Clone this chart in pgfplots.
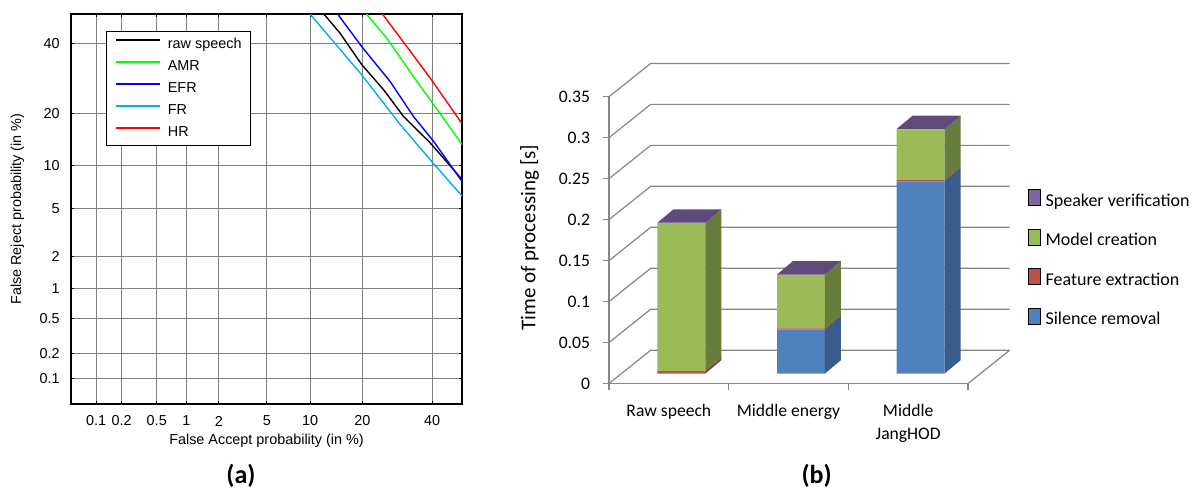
\documentclass[border=0pt]{standalone}
\usepackage{fontspec}
\setmainfont{Liberation Sans}
\newfontfamily\calibri{Carlito}
\usepackage{pgfplots}
\usepackage{pgfplotstable}
\pgfplotsset{compat=1.18}

\definecolor{gridgray}{RGB}{134,134,134}
\definecolor{silence}{RGB}{79,129,189}
\definecolor{silenceside}{RGB}{56,93,138}
\definecolor{feature}{RGB}{192,80,77}
\definecolor{featureside}{RGB}{140,56,54}
\definecolor{model}{RGB}{155,187,89}
\definecolor{modelside}{RGB}{102,125,59}
\definecolor{speaker}{RGB}{128,100,162}
\definecolor{speakertop}{RGB}{96,74,123}

% normal deviate of a percentage p <= 50 (Abramowitz-Stegun 26.2.23), for the DET axes
\newcommand\probit[1]{%
  \pgfmathparse{sqrt(-2*ln((#1)/100))}\let\probt\pgfmathresult
  \pgfmathparse{-(\probt-(2.515517+0.802853*\probt+0.010328*\probt*\probt)/(1+1.432788*\probt+0.189269*\probt*\probt+0.001308*\probt*\probt*\probt))}}

% processing times [s]: silence removal, feature extraction, model creation, speaker verification
\pgfplotstableread{
x   silence feature model  speaker
0.5 0       0.003   0.1805 0.0005
1.5 0.0535  0.0015  0.0655 0.0005
2.5 0.2345  0.0015  0.062  0.0005
}\bartimes

% 3-D look of the bars: side and top faces
\def\ddx{0.1337}\def\ddy{0.0163}\def\hw{0.2}
\newcommand\sideface[4]{%
  \pgfmathsetmacro\sfxa{#1+\hw}\pgfmathsetmacro\sfxb{#1+\hw+\ddx}%
  \pgfmathsetmacro\sfya{#2+\ddy}\pgfmathsetmacro\sfyb{#3+\ddy}%
  \addplot[fill=#4, draw=none, forget plot] coordinates {(\sfxa,#2) (\sfxb,\sfya) (\sfxb,\sfyb) (\sfxa,#3)} -- cycle;}
\newcommand\topface[2]{%
  \pgfmathsetmacro\sfxa{#1-\hw}\pgfmathsetmacro\sfxb{#1+\hw}%
  \pgfmathsetmacro\sfxc{#1+\hw+\ddx}\pgfmathsetmacro\sfxd{#1-\hw+\ddx}\pgfmathsetmacro\sfya{#2+\ddy}%
  \addplot[fill=speakertop, draw=none, forget plot] coordinates {(\sfxa,#2) (\sfxb,#2) (\sfxc,\sfya) (\sfxd,\sfya)} -- cycle;}
\newcommand\barboxrow[1]{%
  \pgfplotstablegetelem{#1}{x}\of\bartimes\let\bbx\pgfplotsretval
  \pgfplotstablegetelem{#1}{silence}\of\bartimes\let\bbs\pgfplotsretval
  \pgfplotstablegetelem{#1}{feature}\of\bartimes\let\bbf\pgfplotsretval
  \pgfplotstablegetelem{#1}{model}\of\bartimes\let\bbm\pgfplotsretval
  \pgfplotstablegetelem{#1}{speaker}\of\bartimes\let\bbv\pgfplotsretval
  \pgfmathsetmacro\cumA{\bbs}\pgfmathsetmacro\cumB{\cumA+\bbf}%
  \pgfmathsetmacro\cumC{\cumB+\bbm}\pgfmathsetmacro\cumD{\cumC+\bbv}%
  \sideface{\bbx}{0}{\cumA}{silenceside}%
  \sideface{\bbx}{\cumA}{\cumB}{featureside}%
  \sideface{\bbx}{\cumB}{\cumC}{modelside}%
  \sideface{\bbx}{\cumC}{\cumD}{speakertop}%
  \topface{\bbx}{\cumD}}

\begin{document}
\begin{tikzpicture}
\path[use as bounding box] (0,0) rectangle (596pt,-247pt);

% ---------- (a) DET curves ----------
\begin{axis}[
  at={(35.5pt,-7pt)}, anchor=north west,
  scale only axis, width=195.5pt, height=195pt,
  x coord trafo/.code={\probit{#1}},
  y coord trafo/.code={\probit{#1}},
  xmin=0.05, xmax=50, ymin=0.05, ymax=50,
  enlargelimits=false,
  xtick={0.1,0.2,0.5,1,2,5,10,20,40},
  xticklabels={0.1,0.2,0.5,1,2,5,10,20,40},
  ytick={0.1,0.2,0.5,1,2,5,10,20,40},
  yticklabels={0.1,0.2,0.5,1,2,5,10,20,40},
  xtick pos=both, ytick pos=both,
  xticklabel pos=lower, yticklabel pos=lower,
  tick align=inside, major tick length=1.5pt,
  tick style={black, line width=0.5pt},
  axis line style={black, line width=0.6pt},
  grid=major, grid style={black!50, line width=0.5pt},
  tick label style={font=\fontsize{7.2}{8.6}\selectfont},
  xticklabel style={anchor=center, yshift=-8.5pt},
  yticklabel style={anchor=east, inner sep=0pt, xshift=-5.5pt},
  label style={font=\fontsize{7.2}{8.6}\selectfont},
  xlabel={False Accept probability (in \%)},
  ylabel={False Reject probability (in \%)},
  xlabel style={at={(axis description cs:0.5,-0.095)}, anchor=center},
  ylabel style={at={(axis description cs:-0.137,0.5)}, anchor=center},
  legend style={at={(rel axis cs:0.0895,0.956)}, anchor=north west,
    draw=black, line width=0.6pt, fill=white,
    font=\fontsize{7.2}{8.6}\selectfont,
    inner xsep=4.5pt, inner ysep=3pt, row sep=4.3pt, column sep=3.35pt,
    nodes={inner sep=0pt, text height=5.2pt, text depth=1.5pt}},
  legend cell align=left,
  legend image code/.code={\draw[#1, line width=0.8pt] (0pt,2.2pt) -- (22pt,2.2pt);},
]
\addplot[draw=black, line width=0.7pt] coordinates {
  (12.2,50) (15.2,43.5) (19.9,33.4) (25.4,26.1) (31.1,19.3) (39.4,13.8) (50,8.1)};
\addplot[draw=green, line width=0.7pt] coordinates {
  (21.0,50) (26.3,41.9) (34.1,29.8) (39.4,23.4) (50,13.5)};
\addplot[draw=blue, line width=0.7pt] coordinates {
  (14.7,50) (19.9,39.1) (27.2,28.4) (34.1,19.3) (40.5,14.1) (50,7.85)};
\addplot[draw=cyan, line width=0.7pt] coordinates {
  (10.0,50) (19.9,30.3) (30.1,17.5) (39.4,10.9) (50,6.2)};
\addplot[draw=red, line width=0.7pt] coordinates {
  (25.1,50) (32.1,39.1) (39.4,29.4) (50,17.7)};
\legend{raw speech, AMR, EFR, FR, HR}
\end{axis}

% ---------- (b) processing time, front plane with walls ----------
\begin{axis}[
  at={(304.5pt,-191.75pt)}, anchor=south west,
  scale only axis, width=179.5pt, height=143.4pt,
  xmin=0, xmax=3, ymin=0, ymax=0.35, clip=false,
  axis x line*=bottom, axis y line*=left,
  axis line style={draw=gridgray, line width=0.6pt},
  tick style={draw=gridgray, line width=0.6pt},
  tick align=outside, major tick length=3pt,
  xtick={0,1,2,3}, xticklabels={},
  extra x ticks={0.5,1.5,2.5},
  extra x tick labels={Raw speech, Middle energy, {Middle\\JangHOD}},
  extra x tick style={major tick length=0pt,
    xticklabel style={yshift=-10pt}},
  xticklabel style={font=\calibri\fontsize{8.8}{11.5}\selectfont,
    align=center, anchor=north, inner sep=0pt},
  ytick={0,0.05,0.1,0.15,0.2,0.25,0.3,0.35},
  yticklabels={0,0.05,0.1,0.15,0.2,0.25,0.3,0.35},
  yticklabel style={font=\calibri\fontsize{8.8}{10}\selectfont,
    anchor=east, inner sep=0pt, xshift=-6.3pt},
  /pgf/number format/assume math mode=true,
  ylabel={Time of processing [s]},
  ylabel style={at={(axis description cs:-0.2214,0.509)}, anchor=center,
    font=\calibri\fontsize{10.5}{12}\selectfont},
]
\pgfplotsinvokeforeach{0,0.05,0.1,0.15,0.2,0.25,0.3,0.35}{
  \draw[gridgray, line width=0.6pt] (axis cs:0,#1) -- ++(20.85pt,16.65pt) -- ++(179.5pt,0pt);
}
\draw[gridgray, line width=0.6pt] (axis cs:3,0) -- ++(20.85pt,16.65pt);
\end{axis}

% bar front faces
\begin{axis}[
  at={(310.75pt,-186.75pt)}, anchor=south west,
  scale only axis, width=179.5pt, height=143.4pt,
  xmin=0, xmax=3, ymin=0, ymax=0.35, clip=false,
  axis lines=none,
  ybar stacked, bar width=24pt,
  ybar legend/.style={legend image code/.code={\fill[##1] (0pt,0pt) rectangle (5.3pt,5pt);}},
  reverse legend,
  legend style={at={(rel axis cs:1.1323,0.6444)}, anchor=north west,
    draw=none, fill=none, inner sep=0pt, row sep=9.3pt, column sep=2.2pt,
    font=\calibri\fontsize{9}{10}\selectfont,
    nodes={inner sep=0pt, text height=6.5pt, text depth=2pt}},
  legend cell align=left,
]
\addplot[fill=silence, draw=none] table[x=x, y=silence] {\bartimes};
\addplot[fill=feature, draw=none] table[x=x, y=feature] {\bartimes};
\addplot[fill=model, draw=none] table[x=x, y=model] {\bartimes};
\addplot[fill=speaker, draw=none] table[x=x, y=speaker] {\bartimes};
\legend{Silence removal, Feature extraction, Model creation, Speaker verification}
\end{axis}

% bar side and top faces
\begin{axis}[
  at={(310.75pt,-186.75pt)}, anchor=south west,
  scale only axis, width=179.5pt, height=143.4pt,
  xmin=0, xmax=3, ymin=0, ymax=0.35, clip=false,
  axis lines=none,
]
\barboxrow{0}
\barboxrow{1}
\barboxrow{2}
\end{axis}

\node[font=\calibri\bfseries\fontsize{13}{15}\selectfont] at (120.5pt,-238pt) {(a)};
\node[font=\calibri\bfseries\fontsize{13}{15}\selectfont] at (408.3pt,-238pt) {(b)};
\end{tikzpicture}
\end{document}
